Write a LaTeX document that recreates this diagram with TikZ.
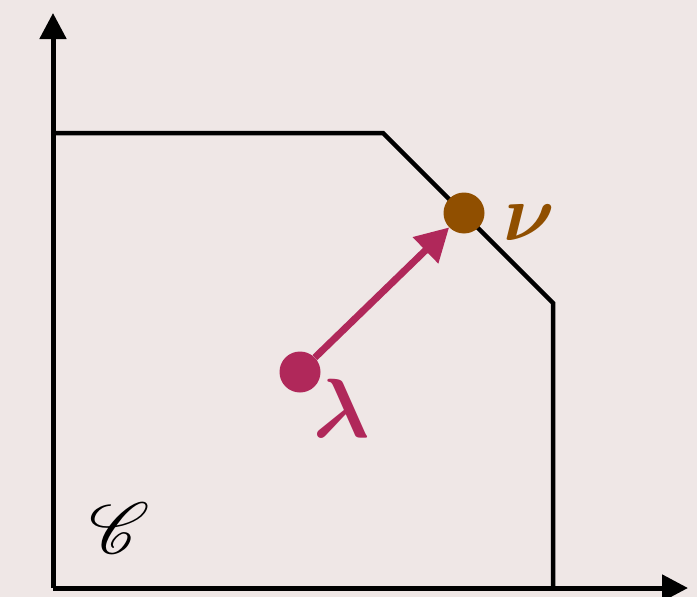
\documentclass[tikz,border=0pt]{standalone}
\usepackage{fix-cm}
\usepackage{amsmath}
\usepackage{bm}
\usetikzlibrary{arrows.meta}
\DeclareFontFamily{U}{myrsfs}{\skewchar\font127 }
\DeclareFontShape{U}{myrsfs}{m}{n}{<-> rsfs10}{}
\definecolor{bgc}{HTML}{EFE7E6}
\definecolor{lamc}{HTML}{B0285A}
\definecolor{nuc}{HTML}{904F00}
\tikzset{
  axis/.style={line width=5pt, -{Triangle[length=26pt,width=26pt]}},
  bound/.style={line width=4.5pt, line join=miter},
  dotnode/.style={circle, inner sep=0pt, minimum size=41pt},
  greeklabel/.style={inner sep=0pt},
}
\begin{document}
\begin{tikzpicture}[x=1pt,y=-1pt]
\fill[bgc] (0,0) rectangle (697,597);
\useasboundingbox (0,0) rectangle (697,597);
\coordinate (o) at (53,588);
\coordinate (ytip) at (53,13);
\coordinate (xtip) at (688,588);
\coordinate (p1) at (53,133);
\coordinate (p2) at (383,133);
\coordinate (p3) at (553,303);
\coordinate (p4) at (553,588);
\draw[axis] (o) -- (ytip);
\draw[axis] (o) -- (xtip);
\draw[bound] (p1) -- (p2) -- (p3) -- (p4);
\node[dotnode, fill=nuc] (nu) at (464,213) {};
\node[dotnode, fill=lamc] (lam) at (300,372) {};
\draw[lamc, line width=7pt, -{Triangle[length=33pt,width=35pt]}] (lam) -- (nu);
\node[greeklabel, text=nuc, font=\fontsize{80}{90}\selectfont] (nul) at (529,223) {$\bm{\nu}$};
\node[greeklabel, text=lamc, font=\fontsize{84}{90}\selectfont] (laml) at (342,408) {$\bm{\lambda}$};
\node[inner sep=0pt] (cl) at (113,528) {\fontsize{72}{80}\usefont{U}{myrsfs}{m}{n}C};
\end{tikzpicture}
\end{document}
